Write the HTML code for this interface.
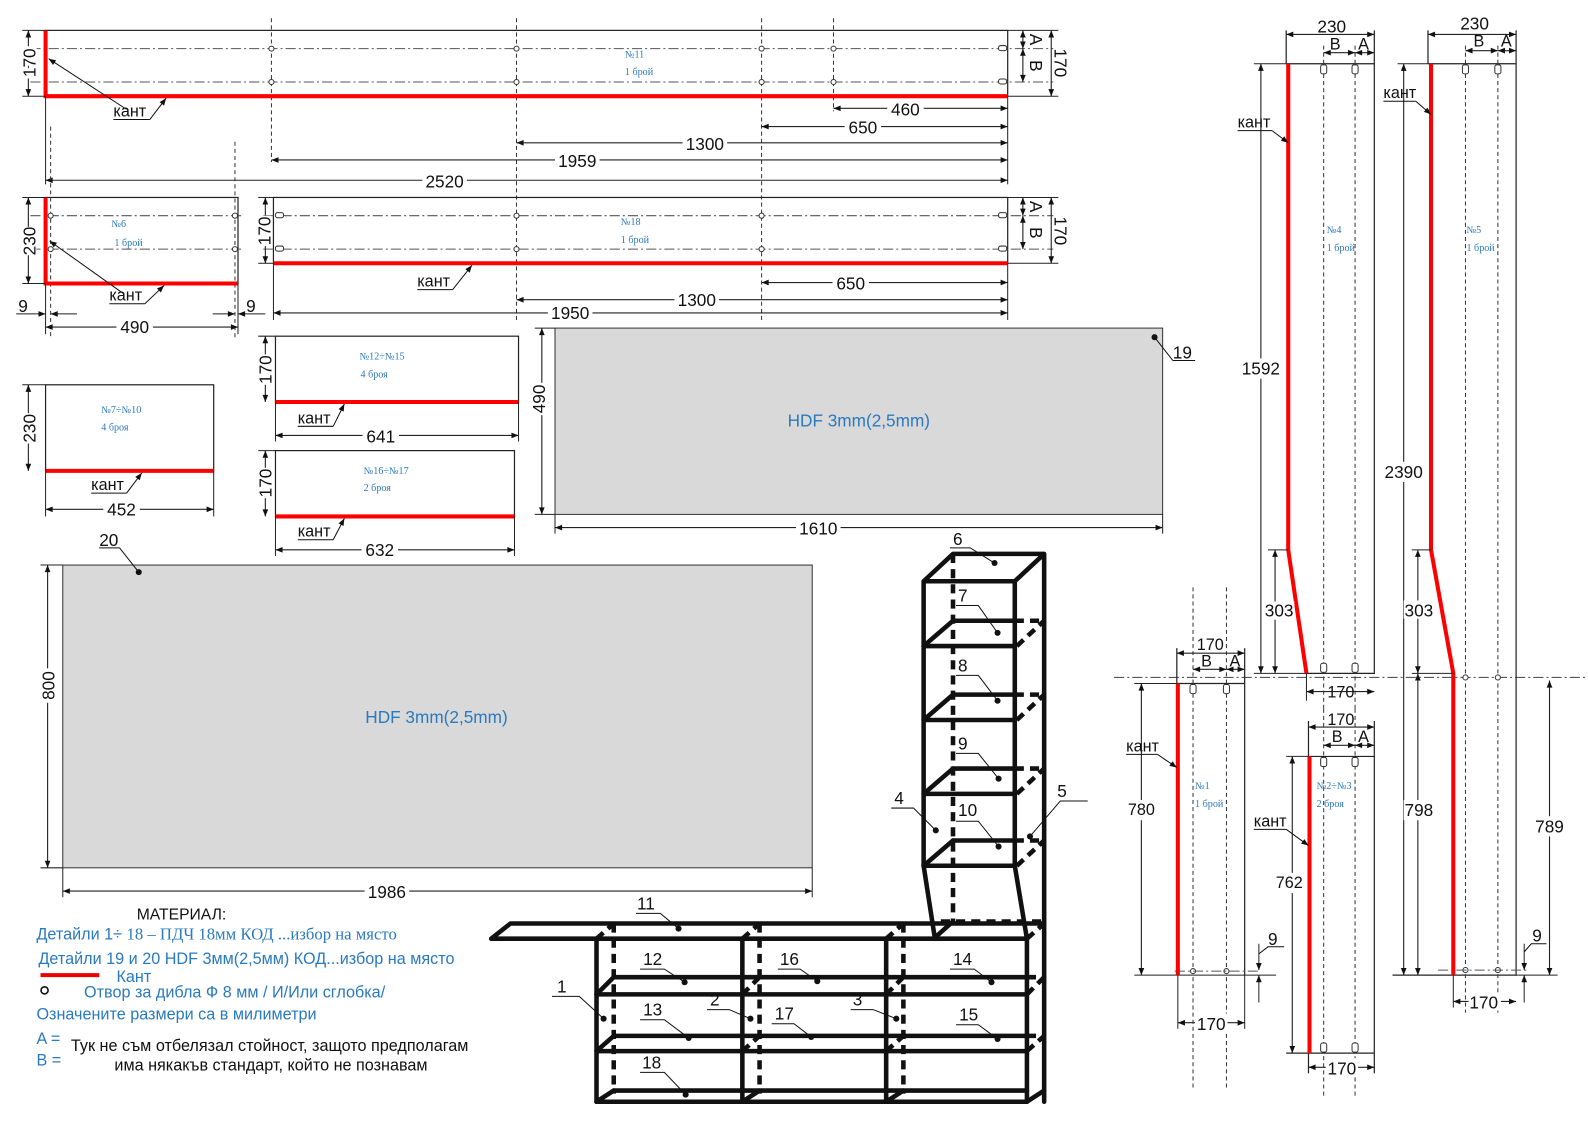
<!DOCTYPE html>
<html><head><meta charset="utf-8"><style>
html,body{margin:0;padding:0;background:#fff;}
svg{display:block;}
text{font-family:"Liberation Sans",sans-serif;}
.t{fill:none;stroke:#222;stroke-width:1.2}
.d{stroke:#222;stroke-width:1.1;marker-start:url(#a);marker-end:url(#a)}
.e{stroke:#222;stroke-width:1;}
.dd{stroke:#333;stroke-width:1;stroke-dasharray:4 3;}
.dc{stroke:#555;stroke-width:1;stroke-dasharray:10 3 2 3;}
.r{stroke:#f00;stroke-width:4;fill:none}
.n{font-size:17px;fill:#111}
.s{font-family:"Liberation Serif",serif;font-size:10px;fill:#2a7ac0}
.k{font-size:16px;fill:#111}
.b{stroke:#111;stroke-width:4.5;fill:none;stroke-linecap:round}
.bd{stroke:#111;stroke-width:4.5;fill:none;stroke-dasharray:9 6}
.ld{stroke:#111;stroke-width:1;fill:none}
.dot{fill:#111}
.h{fill:#fff;stroke:#333;stroke-width:1}
</style></head><body>
<svg width="1588" height="1124" viewBox="0 0 1568 1110" preserveAspectRatio="none" xmlns="http://www.w3.org/2000/svg">
<defs>
<marker id="a" viewBox="0 0 10 10" refX="10" refY="5" markerWidth="9" markerHeight="7" orient="auto-start-reverse" markerUnits="userSpaceOnUse"><path d="M0,1 L10,5 L0,9 z" fill="#111"/></marker>
</defs>

<!-- ===== Panel 11 ===== -->
<rect class="t" x="45" y="30" width="950" height="65"/>
<line class="dc" x1="30" y1="48" x2="1040" y2="48"/><line class="dc" x1="30" y1="81" x2="1040" y2="81"/>
<line class="dd" x1="268" y1="18" x2="268" y2="160"/><line class="dd" x1="510" y1="18" x2="510" y2="318"/>
<line class="dd" x1="752" y1="18" x2="752" y2="318"/><line class="dd" x1="823" y1="18" x2="823" y2="110"/>
<g class="h"><circle cx="268" cy="48" r="2.5"/><circle cx="268" cy="81" r="2.5"/><circle cx="510" cy="48" r="2.5"/><circle cx="510" cy="81" r="2.5"/><circle cx="752" cy="48" r="2.5"/><circle cx="752" cy="81" r="2.5"/><circle cx="823" cy="48" r="2.5"/><circle cx="823" cy="81" r="2.5"/><rect x="986" y="45" width="8" height="5" rx="2"/><rect x="986" y="78" width="8" height="5" rx="2"/></g>
<path class="r" d="M45,30 V95 H995"/>
<line class="e" x1="22" y1="30" x2="45" y2="30"/><line class="e" x1="22" y1="95" x2="45" y2="95"/>
<line class="d" x1="28" y1="30" x2="28" y2="95"/>
<text class="n" transform="translate(35,62) rotate(-90)" text-anchor="middle" fill="#fff" stroke="#fff" stroke-width="6">170</text>
<text class="n" transform="translate(35,62) rotate(-90)" text-anchor="middle">170</text>
<line class="e" x1="995" y1="30" x2="1045" y2="30"/><line class="e" x1="995" y1="95" x2="1045" y2="95"/>
<line class="d" x1="1010" y1="30" x2="1010" y2="48"/><line class="d" x1="1010" y1="48" x2="1010" y2="81"/>
<line class="d" x1="1038" y1="30" x2="1038" y2="95"/>
<text class="n" transform="translate(1017,39) rotate(90)" text-anchor="middle">A</text>
<text class="n" transform="translate(1017,65) rotate(90)" text-anchor="middle">B</text>
<text class="n" transform="translate(1041,62) rotate(90)" text-anchor="middle">170</text>
<text class="s" x="617" y="57">№11</text><text class="s" x="617" y="74">1 брой</text>
<line class="e" x1="45" y1="95" x2="45" y2="182"/><line class="e" x1="995" y1="95" x2="995" y2="182"/>
<line class="d" x1="823" y1="107" x2="995" y2="107"/><rect x="876" y="98" width="36" height="18" fill="#fff"/><text class="n" x="894" y="114" text-anchor="middle">460</text>
<line class="d" x1="752" y1="125" x2="995" y2="125"/><rect x="834" y="116" width="36" height="18" fill="#fff"/><text class="n" x="852" y="132" text-anchor="middle">650</text>
<line class="d" x1="510" y1="141" x2="995" y2="141"/><rect x="674" y="132" width="44" height="18" fill="#fff"/><text class="n" x="696" y="148" text-anchor="middle">1300</text>
<line class="d" x1="268" y1="158" x2="995" y2="158"/><rect x="548" y="149" width="44" height="18" fill="#fff"/><text class="n" x="570" y="165" text-anchor="middle">1959</text>
<line class="d" x1="45" y1="178" x2="995" y2="178"/><rect x="417" y="169" width="44" height="18" fill="#fff"/><text class="n" x="439" y="185" text-anchor="middle">2520</text>
<text class="k" x="112" y="115">кант</text><line class="ld" x1="112" y1="118" x2="148" y2="118"/>
<line class="ld" x1="148" y1="118" x2="164" y2="97" marker-end="url(#a)"/><line class="ld" x1="125" y1="108" x2="48" y2="58" marker-end="url(#a)"/>

<!-- ===== Panel 6 ===== -->
<rect class="t" x="45" y="195" width="190" height="85"/>
<line class="dc" x1="30" y1="213" x2="240" y2="213"/><line class="dc" x1="30" y1="246" x2="240" y2="246"/>
<line class="dd" x1="50" y1="125" x2="50" y2="335"/><line class="dd" x1="232" y1="140" x2="232" y2="335"/>
<g class="h"><circle cx="50" cy="213" r="2.5"/><circle cx="50" cy="246" r="2.5"/><circle cx="232" cy="213" r="2.5"/><circle cx="232" cy="246" r="2.5"/></g>
<path class="r" d="M45,195 V280 H235"/>
<line class="e" x1="22" y1="195" x2="45" y2="195"/><line class="e" x1="22" y1="280" x2="45" y2="280"/>
<line class="d" x1="28" y1="195" x2="28" y2="280"/>
<rect x="20" y="224" width="16" height="28" fill="#fff"/><text class="n" transform="translate(35,238) rotate(-90)" text-anchor="middle">230</text>
<text class="s" x="110" y="224">№6</text><text class="s" x="113" y="243">1 брой</text>
<text class="k" x="108" y="297">кант</text><line class="ld" x1="108" y1="300" x2="143" y2="300"/>
<line class="ld" x1="143" y1="300" x2="162" y2="282" marker-end="url(#a)"/><line class="ld" x1="122" y1="290" x2="49" y2="238" marker-end="url(#a)"/>
<line class="e" x1="45" y1="280" x2="45" y2="330"/><line class="e" x1="235" y1="280" x2="235" y2="330"/>
<line class="e" x1="16" y1="310" x2="45" y2="310" marker-end="url(#a)"/><line class="e" x1="76" y1="310" x2="50" y2="310" marker-end="url(#a)"/>
<line class="e" x1="210" y1="310" x2="232" y2="310" marker-end="url(#a)"/><line class="e" x1="262" y1="310" x2="235" y2="310" marker-end="url(#a)"/>
<text class="n" x="18" y="308">9</text><text class="n" x="243" y="308">9</text>
<line class="d" x1="45" y1="323" x2="235" y2="323"/><rect x="115" y="314" width="36" height="18" fill="#fff"/><text class="n" x="133" y="329" text-anchor="middle">490</text>

<!-- ===== Panel 18 ===== -->
<rect class="t" x="270" y="195" width="725" height="65"/>
<line class="dc" x1="260" y1="213" x2="1040" y2="213"/><line class="dc" x1="260" y1="246" x2="1040" y2="246"/>
<g class="h"><circle cx="510" cy="213" r="2.5"/><circle cx="510" cy="246" r="2.5"/><circle cx="752" cy="213" r="2.5"/><circle cx="752" cy="246" r="2.5"/><rect x="272" y="210" width="8" height="5" rx="2"/><rect x="272" y="243" width="8" height="5" rx="2"/><rect x="986" y="210" width="8" height="5" rx="2"/><rect x="986" y="243" width="8" height="5" rx="2"/></g>
<path class="r" d="M270,260 H995"/>
<line class="e" x1="255" y1="195" x2="270" y2="195"/><line class="e" x1="255" y1="260" x2="270" y2="260"/>
<line class="d" x1="262" y1="195" x2="262" y2="260"/>
<rect x="252" y="213" width="16" height="30" fill="#fff"/><text class="n" transform="translate(267,228) rotate(-90)" text-anchor="middle">170</text>
<line class="e" x1="995" y1="195" x2="1045" y2="195"/><line class="e" x1="995" y1="260" x2="1045" y2="260"/>
<line class="d" x1="1010" y1="195" x2="1010" y2="213"/><line class="d" x1="1010" y1="213" x2="1010" y2="246"/>
<line class="d" x1="1038" y1="195" x2="1038" y2="260"/>
<text class="n" transform="translate(1017,204) rotate(90)" text-anchor="middle">A</text>
<text class="n" transform="translate(1017,230) rotate(90)" text-anchor="middle">B</text>
<text class="n" transform="translate(1041,228) rotate(90)" text-anchor="middle">170</text>
<text class="s" x="613" y="222">№18</text><text class="s" x="613" y="240">1 брой</text>
<text class="k" x="412" y="283">кант</text><line class="ld" x1="412" y1="286" x2="447" y2="286"/>
<line class="ld" x1="447" y1="286" x2="466" y2="262" marker-end="url(#a)"/>
<line class="e" x1="270" y1="260" x2="270" y2="316"/><line class="e" x1="995" y1="260" x2="995" y2="316"/>
<line class="d" x1="752" y1="279" x2="995" y2="279"/><rect x="822" y="270" width="36" height="18" fill="#fff"/><text class="n" x="840" y="286" text-anchor="middle">650</text>
<line class="d" x1="510" y1="296" x2="995" y2="296"/><rect x="666" y="287" width="44" height="18" fill="#fff"/><text class="n" x="688" y="302" text-anchor="middle">1300</text>
<line class="d" x1="270" y1="309" x2="995" y2="309"/><rect x="541" y="300" width="44" height="18" fill="#fff"/><text class="n" x="563" y="315" text-anchor="middle">1950</text>

<!-- ===== Panel 12-15 ===== -->
<rect class="t" x="272" y="332" width="240" height="65"/><path class="r" d="M272,397 H512"/>
<line class="e" x1="255" y1="332" x2="272" y2="332"/><line class="d" x1="262" y1="332" x2="262" y2="397"/>
<rect x="252" y="350" width="16" height="30" fill="#fff"/><text class="n" transform="translate(268,365) rotate(-90)" text-anchor="middle">170</text>
<text class="s" x="355" y="355">№12÷№15</text><text class="s" x="356" y="373">4 броя</text>
<text class="k" x="294" y="418">кант</text><line class="ld" x1="294" y1="421" x2="329" y2="421"/><line class="ld" x1="329" y1="421" x2="340" y2="399" marker-end="url(#a)"/>
<line class="e" x1="272" y1="397" x2="272" y2="436"/><line class="e" x1="512" y1="397" x2="512" y2="436"/>
<line class="d" x1="272" y1="430" x2="512" y2="430"/><rect x="358" y="421" width="36" height="18" fill="#fff"/><text class="n" x="376" y="437" text-anchor="middle">641</text>

<!-- ===== Panel 16-17 ===== -->
<rect class="t" x="272" y="445" width="236" height="65"/><path class="r" d="M272,510 H508"/>
<line class="e" x1="255" y1="445" x2="272" y2="445"/><line class="d" x1="262" y1="445" x2="262" y2="510"/>
<rect x="252" y="462" width="16" height="30" fill="#fff"/><text class="n" transform="translate(268,477) rotate(-90)" text-anchor="middle">170</text>
<text class="s" x="359" y="468">№16÷№17</text><text class="s" x="359" y="485">2 броя</text>
<text class="k" x="294" y="530">кант</text><line class="ld" x1="294" y1="533" x2="329" y2="533"/><line class="ld" x1="329" y1="533" x2="340" y2="512" marker-end="url(#a)"/>
<line class="e" x1="272" y1="510" x2="272" y2="549"/><line class="e" x1="508" y1="510" x2="508" y2="549"/>
<line class="d" x1="272" y1="543" x2="508" y2="543"/><rect x="357" y="534" width="36" height="18" fill="#fff"/><text class="n" x="375" y="549" text-anchor="middle">632</text>

<!-- ===== Panel 7-10 ===== -->
<rect class="t" x="45" y="380" width="166" height="85"/><path class="r" d="M45,465 H211"/>
<line class="e" x1="22" y1="380" x2="45" y2="380"/><line class="d" x1="28" y1="380" x2="28" y2="465"/>
<rect x="20" y="408" width="16" height="30" fill="#fff"/><text class="n" transform="translate(35,423) rotate(-90)" text-anchor="middle">230</text>
<text class="s" x="100" y="408">№7÷№10</text><text class="s" x="100" y="425">4 броя</text>
<text class="k" x="90" y="484">кант</text><line class="ld" x1="90" y1="487" x2="125" y2="487"/><line class="ld" x1="125" y1="487" x2="140" y2="467" marker-end="url(#a)"/>
<line class="e" x1="45" y1="465" x2="45" y2="510"/><line class="e" x1="211" y1="465" x2="211" y2="510"/>
<line class="d" x1="45" y1="503" x2="211" y2="503"/><rect x="102" y="494" width="36" height="18" fill="#fff"/><text class="n" x="120" y="509" text-anchor="middle">452</text>

<!-- ===== Panel 19 ===== -->
<rect x="548" y="324" width="600" height="184" fill="#d9d9d9" stroke="#333" stroke-width="1"/>
<text x="848" y="421" text-anchor="middle" font-size="17" fill="#2a7ac0">HDF 3mm(2,5mm)</text>
<line class="e" x1="528" y1="324" x2="548" y2="324"/><line class="e" x1="528" y1="508" x2="548" y2="508"/>
<line class="d" x1="535" y1="324" x2="535" y2="508"/>
<rect x="527" y="378" width="16" height="32" fill="#fff"/><text class="n" transform="translate(538,394) rotate(-90)" text-anchor="middle">490</text>
<line class="e" x1="548" y1="508" x2="548" y2="527"/><line class="e" x1="1148" y1="508" x2="1148" y2="527"/>
<line class="d" x1="548" y1="521" x2="1148" y2="521"/><rect x="786" y="512" width="44" height="18" fill="#fff"/><text class="n" x="808" y="528" text-anchor="middle">1610</text>
<circle class="dot" cx="1140" cy="333" r="3"/><line class="ld" x1="1140" y1="333" x2="1158" y2="356"/><line class="ld" x1="1158" y1="356" x2="1180" y2="356"/>
<text class="n" x="1158" y="354">19</text>

<!-- ===== Panel 20 ===== -->
<rect x="62" y="558" width="740" height="299" fill="#d9d9d9" stroke="#333" stroke-width="1"/>
<text x="431" y="714" text-anchor="middle" font-size="17" fill="#2a7ac0">HDF 3mm(2,5mm)</text>
<line class="e" x1="40" y1="558" x2="62" y2="558"/><line class="e" x1="40" y1="857" x2="62" y2="857"/>
<line class="d" x1="47" y1="558" x2="47" y2="857"/>
<rect x="38" y="660" width="18" height="34" fill="#fff"/><text class="n" transform="translate(54,677) rotate(-90)" text-anchor="middle">800</text>
<line class="e" x1="62" y1="857" x2="62" y2="886"/><line class="e" x1="802" y1="857" x2="802" y2="886"/>
<line class="d" x1="62" y1="880" x2="802" y2="880"/><rect x="360" y="871" width="44" height="18" fill="#fff"/><text class="n" x="382" y="887" text-anchor="middle">1986</text>
<circle class="dot" cx="137" cy="565" r="3"/><line class="ld" x1="137" y1="565" x2="118" y2="541"/><line class="ld" x1="98" y1="541" x2="118" y2="541"/>
<text class="n" x="98" y="539">20</text>

<!-- ===== Legend ===== -->
<text x="135" y="908" font-size="15.5" fill="#111">МАТЕРИАЛ:</text>
<text x="36" y="928" font-size="16" fill="#2a7ac0">Детайли 1÷ <tspan font-family="Liberation Serif" font-size="16.5">18 – ПДЧ 18мм КОД ...избор на място</tspan></text>
<text x="38" y="952" font-size="16" fill="#2a7ac0">Детайли 19 и 20 HDF 3мм(2,5мм) КОД...избор на място</text>
<line x1="40" y1="963" x2="98" y2="963" stroke="#e00" stroke-width="4"/>
<text x="115" y="970" font-size="16" fill="#2a7ac0">Кант</text>
<circle cx="44" cy="978" r="3.5" fill="none" stroke="#111" stroke-width="1.6"/>
<text x="83" y="985" font-size="16" fill="#2a7ac0">Отвор за дибла Ф 8 мм / И/Или сглобка/</text>
<text x="36" y="1007" font-size="16" fill="#2a7ac0">Означените размери са в милиметри</text>
<text x="36" y="1031" font-size="16" fill="#2a7ac0">A =</text>
<text x="36" y="1052" font-size="16" fill="#2a7ac0">B =</text>
<text x="70" y="1038" font-size="16" fill="#111">Тук не съм отбелязал стойност, защото предполагам</text>
<text x="113" y="1057" font-size="16" fill="#111">има някакъв стандарт, който не познавам</text>

<!-- ===== 3D drawing ===== -->
<g>
<path class="b" d="M941,547 H1031 M912,574 H1002 M912,574 L941,547 M1002,574 L1031,547 M912,574 V855 M1002,574 V855 M1031,547 V1088"/>
<line class="bd" x1="941" y1="547" x2="941" y2="910"/>
<path class="b" d="M912,638 H1002 M912,711 H1002 M912,784 H1002 M912,855 H1002"/>
<path class="b" d="M941,613 H1002 M941,686 H1002 M941,759 H1002 M941,830 H1002"/>
<path class="bd" d="M1002,613 H1031 M1002,686 H1031 M1002,759 H1031 M1002,830 H1031"/>
<path class="b" d="M912,638 L941,613 M912,711 L941,686 M912,784 L941,759 M912,855 L941,830"/>
<path class="bd" d="M1004,638 L1031,613 M1004,711 L1031,686 M1004,784 L1031,759 M1004,855 L1031,830"/>
<path class="b" d="M912,855 L923,926 M1002,855 L1014,927 M923,926 L941,910"/>
<line class="bd" x1="929" y1="910" x2="1031" y2="910"/>
<path class="b" d="M504,912 H1031 M485,927 H1014 M485,927 L504,912"/>
<path class="b" d="M589,927 V1088 M733,927 V1088 M875,927 V1088 M1014,927 V1088"/>
<path class="bd" d="M606,912 V1080 M750,912 V1080 M892,912 V1080"/>
<path class="b" d="M589,982 H1014 M589,1038 H1014 M589,1088 H1014"/>
<path class="b" d="M606,965 H1014 M606,1023 H1014 M606,1077 H1014"/>
<path class="bd" d="M1014,965 H1031 M1014,1023 H1031"/>
<path class="b" d="M589,982 L606,965 M589,1038 L606,1023 M589,1088 L606,1077 M733,1088 L750,1077 M875,1088 L892,1077 M1014,1088 L1031,1077"/>
<path class="bd" d="M589,927 L606,912 M733,927 L750,912 M875,927 L892,912 M733,982 L750,965 M875,982 L892,965 M733,1038 L750,1023 M875,1038 L892,1023 M1014,927 L1031,912 M1014,982 L1031,965 M1014,1038 L1031,1023"/>
</g>
<g class="n">
<text x="941" y="538">6</text><text x="946" y="594">7</text><text x="946" y="663">8</text><text x="946" y="740">9</text><text x="946" y="806">10</text>
<text x="883" y="794">4</text><text x="1044" y="787">5</text><text x="629" y="898">11</text><text x="635" y="953">12</text>
<text x="770" y="953">16</text><text x="941" y="953">14</text><text x="550" y="980">1</text><text x="701" y="993">2</text>
<text x="842" y="993">3</text><text x="635" y="1003">13</text><text x="765" y="1007">17</text><text x="947" y="1008">15</text><text x="634" y="1055">18</text>
</g>
<g class="ld">
<path d="M938,541 H958 L982,556"/><path d="M944,598 H966 L985,625"/><path d="M944,667 H966 L985,692"/>
<path d="M944,744 H966 L986,769"/><path d="M944,811 H966 L986,836"/><path d="M880,798 H902 L924,820"/>
<path d="M1074,791 H1047 L1017,826"/><path d="M628,902 H652 L670,917"/><path d="M632,957 H656 L676,970"/>
<path d="M768,957 H790 L807,969"/><path d="M938,957 H962 L979,970"/><path d="M545,984 H572 L596,1006"/>
<path d="M698,997 H720 L741,1006"/><path d="M840,997 H862 L885,1006"/><path d="M632,1007 H656 L680,1025"/>
<path d="M762,1011 H784 L801,1024"/><path d="M944,1012 H966 L985,1026"/><path d="M632,1059 H656 L677,1081"/>
</g>
<g class="dot">
<circle cx="982" cy="556" r="3"/><circle cx="985" cy="625" r="3"/><circle cx="985" cy="692" r="3"/><circle cx="986" cy="769" r="3"/><circle cx="986" cy="836" r="3"/><circle cx="924" cy="820" r="3"/><circle cx="1017" cy="826" r="3"/><circle cx="670" cy="917" r="3"/><circle cx="676" cy="970" r="3"/><circle cx="807" cy="969" r="3"/><circle cx="979" cy="970" r="3"/><circle cx="596" cy="1006" r="3"/><circle cx="741" cy="1006" r="3"/><circle cx="885" cy="1006" r="3"/><circle cx="680" cy="1025" r="3"/><circle cx="801" cy="1024" r="3"/><circle cx="985" cy="1026" r="3"/><circle cx="677" cy="1081" r="3"/>
</g>

<!-- ===== Right panels ===== -->
<line class="dc" x1="1100" y1="669" x2="1568" y2="669"/>
<path class="t" d="M1270,63 H1357 V665 H1290 M1270,63 V30 M1357,63 V30"/>
<line class="dd" x1="1307" y1="45" x2="1307" y2="700"/><line class="dd" x1="1338" y1="45" x2="1338" y2="700"/>
<g class="h"><rect x="1304" y="64" width="6" height="9" rx="2"/><rect x="1335" y="64" width="6" height="9" rx="2"/><rect x="1304" y="655" width="6" height="9" rx="2"/><rect x="1335" y="655" width="6" height="9" rx="2"/></g>
<path class="r" d="M1272,63 V543 L1290,665"/>
<line class="d" x1="1270" y1="34" x2="1357" y2="34"/><text class="n" x="1315" y="32" text-anchor="middle">230</text>
<line class="d" x1="1307" y1="52" x2="1338" y2="52"/><line class="d" x1="1338" y1="52" x2="1357" y2="52"/>
<text class="k" x="1313" y="49">B</text><text class="k" x="1341" y="49">A</text>
<line class="e" x1="1238" y1="63" x2="1270" y2="63"/><line class="e" x1="1238" y1="665" x2="1290" y2="665"/><line class="e" x1="1252" y1="543" x2="1272" y2="543"/>
<line class="d" x1="1245" y1="63" x2="1245" y2="665"/><rect x="1226" y="354" width="40" height="20" fill="#fff"/><text class="n" x="1245" y="370" text-anchor="middle">1592</text>
<line class="d" x1="1259" y1="543" x2="1259" y2="665"/><rect x="1248" y="594" width="30" height="18" fill="#fff"/><text class="n" x="1263" y="609" text-anchor="middle">303</text>
<line class="e" x1="1290" y1="665" x2="1290" y2="692"/>
<line class="d" x1="1290" y1="683" x2="1357" y2="683"/><text class="k" x="1324" y="689" text-anchor="middle">170</text>
<text class="k" x="1222" y="126">кант</text><line class="ld" x1="1222" y1="129" x2="1256" y2="129"/><line class="ld" x1="1256" y1="129" x2="1272" y2="141" marker-end="url(#a)"/>
<text class="s" x="1310" y="230">№4</text><text class="s" x="1310" y="248">1 брой</text>

<path class="t" d="M1410,63 H1497 V963 H1375 M1410,63 V30 M1497,63 V30"/>
<line class="dd" x1="1447" y1="45" x2="1447" y2="1000"/><line class="dd" x1="1479" y1="45" x2="1479" y2="1000"/>
<g class="h"><rect x="1444" y="64" width="6" height="9" rx="2"/><rect x="1476" y="64" width="6" height="9" rx="2"/><circle cx="1447" cy="669" r="2.5"/><circle cx="1479" cy="669" r="2.5"/><circle cx="1447" cy="958" r="2.5"/><circle cx="1479" cy="958" r="2.5"/></g>
<line class="dc" x1="1420" y1="958" x2="1510" y2="958"/>
<path class="r" d="M1413,63 V543 L1435,665 V963"/>
<line class="d" x1="1410" y1="34" x2="1497" y2="34"/><text class="n" x="1456" y="29" text-anchor="middle">230</text>
<line class="d" x1="1447" y1="50" x2="1479" y2="50"/><line class="d" x1="1479" y1="50" x2="1497" y2="50"/>
<text class="k" x="1455" y="46">B</text><text class="k" x="1482" y="46">A</text>
<line class="e" x1="1380" y1="63" x2="1410" y2="63"/><line class="e" x1="1394" y1="543" x2="1413" y2="543"/><line class="e" x1="1394" y1="665" x2="1435" y2="665"/>
<line class="d" x1="1386" y1="63" x2="1386" y2="963"/><rect x="1366" y="456" width="42" height="20" fill="#fff"/><text class="n" x="1386" y="472" text-anchor="middle">2390</text>
<line class="d" x1="1400" y1="543" x2="1400" y2="665"/><rect x="1386" y="593" width="32" height="18" fill="#fff"/><text class="n" x="1401" y="609" text-anchor="middle">303</text>
<line class="d" x1="1400" y1="665" x2="1400" y2="963"/><rect x="1386" y="790" width="32" height="20" fill="#fff"/><text class="n" x="1401" y="806" text-anchor="middle">798</text>
<line class="e" x1="1497" y1="963" x2="1538" y2="963"/>
<line class="d" x1="1530" y1="672" x2="1530" y2="963"/><rect x="1515" y="806" width="32" height="20" fill="#fff"/><text class="n" x="1530" y="822" text-anchor="middle">789</text>
<line class="e" x1="1435" y1="963" x2="1435" y2="995"/>
<line class="d" x1="1435" y1="989" x2="1497" y2="989"/><rect x="1450" y="980" width="32" height="18" fill="#fff"/><text class="n" x="1465" y="996" text-anchor="middle">170</text>
<line class="e" x1="1505" y1="932" x2="1505" y2="958" marker-end="url(#a)"/><line class="e" x1="1505" y1="990" x2="1505" y2="963" marker-end="url(#a)"/>
<path class="ld" d="M1505,940 L1512,932 H1527"/><text class="n" x="1513" y="930">9</text>
<text class="k" x="1366" y="97">кант</text><line class="ld" x1="1366" y1="100" x2="1398" y2="100"/><line class="ld" x1="1398" y1="100" x2="1413" y2="113" marker-end="url(#a)"/>
<text class="s" x="1448" y="230">№5</text><text class="s" x="1448" y="248">1 брой</text>

<path class="t" d="M1162,675 H1229 V963 M1162,675 V640 M1229,675 V640"/>
<line class="e" x1="1120" y1="963" x2="1260" y2="963"/>
<line class="dd" x1="1178" y1="580" x2="1178" y2="1075"/><line class="dd" x1="1211" y1="580" x2="1211" y2="1075"/>
<g class="h"><rect x="1175" y="676" width="6" height="9" rx="2"/><rect x="1208" y="676" width="6" height="9" rx="2"/><circle cx="1178" cy="959" r="2.5"/><circle cx="1211" cy="959" r="2.5"/></g>
<line class="dc" x1="1160" y1="959" x2="1245" y2="959"/>
<path class="r" d="M1163,675 V963"/>
<line class="d" x1="1162" y1="645" x2="1229" y2="645"/><text class="k" x="1195" y="642" text-anchor="middle">170</text>
<line class="d" x1="1178" y1="661" x2="1211" y2="661"/><line class="d" x1="1211" y1="661" x2="1229" y2="661"/>
<text class="k" x="1186" y="658">B</text><text class="k" x="1214" y="658">A</text>
<line class="e" x1="1120" y1="675" x2="1162" y2="675"/>
<line class="d" x1="1127" y1="675" x2="1127" y2="963"/><rect x="1112" y="790" width="30" height="20" fill="#fff"/><text class="k" x="1127" y="805" text-anchor="middle">780</text>
<line class="e" x1="1163" y1="963" x2="1163" y2="1016"/><line class="e" x1="1229" y1="963" x2="1229" y2="1016"/>
<line class="d" x1="1163" y1="1010" x2="1229" y2="1010"/><rect x="1180" y="1001" width="32" height="18" fill="#fff"/><text class="n" x="1196" y="1017" text-anchor="middle">170</text>
<line class="e" x1="1243" y1="932" x2="1243" y2="958" marker-end="url(#a)"/><line class="e" x1="1243" y1="990" x2="1243" y2="963" marker-end="url(#a)"/>
<path class="ld" d="M1243,942 L1252,935 H1268"/><text class="n" x="1252" y="933">9</text>
<text class="k" x="1112" y="742">кант</text><line class="ld" x1="1112" y1="745" x2="1143" y2="745"/><line class="ld" x1="1143" y1="745" x2="1162" y2="758" marker-end="url(#a)"/>
<text class="s" x="1180" y="779">№1</text><text class="s" x="1180" y="797">1 брой</text>

<path class="t" d="M1292,747 H1357 V1040 H1270 M1292,747 V712 M1357,747 V712 M1292,1040 V1060 M1357,1040 V1060"/>
<line class="dd" x1="1307" y1="700" x2="1307" y2="1085"/><line class="dd" x1="1338" y1="700" x2="1338" y2="1085"/>
<g class="h"><rect x="1304" y="748" width="6" height="9" rx="2"/><rect x="1335" y="748" width="6" height="9" rx="2"/><rect x="1304" y="1030" width="6" height="9" rx="2"/><rect x="1335" y="1030" width="6" height="9" rx="2"/></g>
<path class="r" d="M1293,747 V1040"/>
<line class="d" x1="1292" y1="718" x2="1357" y2="718"/><text class="k" x="1324" y="716" text-anchor="middle">170</text>
<line class="d" x1="1307" y1="736" x2="1338" y2="736"/><line class="d" x1="1338" y1="736" x2="1357" y2="736"/>
<text class="k" x="1315" y="733">B</text><text class="k" x="1341" y="733">A</text>
<line class="e" x1="1270" y1="747" x2="1292" y2="747"/>
<line class="d" x1="1276" y1="747" x2="1276" y2="1040"/><rect x="1260" y="862" width="30" height="20" fill="#fff"/><text class="k" x="1273" y="877" text-anchor="middle">762</text>
<line class="d" x1="1292" y1="1054" x2="1357" y2="1054"/><rect x="1309" y="1045" width="32" height="18" fill="#fff"/><text class="n" x="1325" y="1061" text-anchor="middle">170</text>
<text class="k" x="1238" y="816">кант</text><line class="ld" x1="1238" y1="819" x2="1270" y2="819"/><line class="ld" x1="1270" y1="819" x2="1292" y2="835" marker-end="url(#a)"/>
<text class="s" x="1300" y="779">№2÷№3</text><text class="s" x="1300" y="797">2 броя</text>
</svg>
</body></html>
